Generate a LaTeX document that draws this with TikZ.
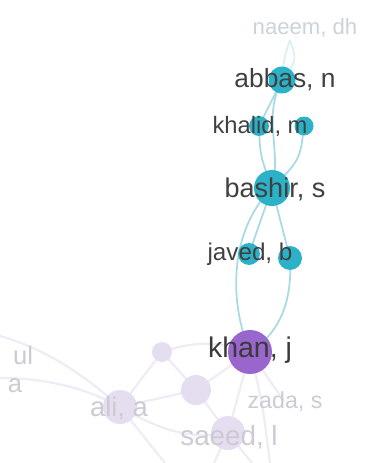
\documentclass[tikz,border=0pt]{standalone}
\usepackage{fontspec}
\setmainfont{Liberation Sans}
\usepackage{xcolor}
\usepackage{tikz}

\definecolor{authorteal}{RGB}{43,178,200}
\definecolor{edgeteal}{RGB}{168,218,228}
\definecolor{khanpurple}{RGB}{152,102,204}
\definecolor{palepurple}{RGB}{229,222,240}
\definecolor{edgepurple}{RGB}{240,236,246}
\definecolor{labeldark}{RGB}{64,64,64}
\definecolor{labelpale}{RGB}{205,202,212}
\definecolor{labelmist}{RGB}{202,212,216}

\begin{document}
\begin{tikzpicture}[x=0.02cm, y=-0.02cm,
	author/.style={circle, fill=authorteal, inner sep=0pt, minimum size=#1},
	faded/.style={circle, fill=palepurple, inner sep=0pt, minimum size=#1},
	lbl/.style={font=\fontsize{#1}{#1}\selectfont, text=labeldark, inner sep=0pt},
	palelbl/.style={font=\fontsize{#1}{#1}\selectfont, text=labelpale, inner sep=0pt},
	tealedge/.style={draw=edgeteal, line width=1pt},
	paleedge/.style={draw=edgepurple, line width=1.3pt}]
					\useasboundingbox (0,0) rectangle (365,463);
					
					\coordinate (Naeem) at (290, 40);
					\coordinate (Abbas) at (282, 80);
					\coordinate (KhalidA) at (259, 126);
					\coordinate (KhalidB) at (304, 126);
					\coordinate (Bashir) at (272, 188);
					\coordinate (JavedA) at (249, 254);
					\coordinate (JavedB) at (290, 258);
					\coordinate (Khan) at (250, 352);
					\coordinate (Minor) at (162, 352);
					\coordinate (Middle) at (196, 390);
					\coordinate (Ali) at (120, 407);
					\coordinate (Saeed) at (228, 433);
					\coordinate (Zada) at (284, 401);
					\coordinate (EdgeUl) at (0, 336);
					\coordinate (EdgeA) at (0, 378);
					\coordinate (BottomA) at (165, 463);
					\coordinate (BottomB) at (214, 463);
					\coordinate (BottomC) at (252, 463);
					\coordinate (BottomD) at (270, 463);
					
					\draw[paleedge] (EdgeUl) .. controls (50, 350) and (90, 380) .. (Ali);
					\draw[paleedge] (EdgeA) .. controls (50, 378) and (90, 390) .. (Ali);
					\draw[paleedge] (Ali) -- (Minor);
					\draw[paleedge] (Ali) -- (Middle);
					\draw[paleedge] (Minor) -- (Middle);
					\draw[paleedge] (Minor) .. controls (190, 342) and (220, 340) .. (Khan);
					\draw[paleedge] (Middle) -- (Khan);
					\draw[paleedge] (Middle) -- (Saeed);
					\draw[paleedge] (Ali) .. controls (160, 430) and (190, 440) .. (Saeed);
					\draw[paleedge] (Ali) -- (BottomA);
					\draw[paleedge] (Khan) -- (Saeed);
					\draw[paleedge] (Khan) -- (Zada);
					\draw[paleedge] (Khan) .. controls (262, 400) .. (BottomD);
					\draw[paleedge] (Saeed) -- (BottomB);
					\draw[paleedge] (Saeed) -- (BottomC);
					
					\draw[draw=edgeteal!40, line width=1pt] (Naeem) .. controls (284, 58) .. (Abbas);
					\draw[draw=edgeteal!40, line width=1pt] (Naeem) .. controls (297, 60) .. (Abbas);
					\draw[tealedge] (Abbas) -- (KhalidA);
					\draw[tealedge] (Abbas) .. controls (262, 118) and (282, 150) .. (Bashir);
					\draw[tealedge] (KhalidA) .. controls (260, 155) .. (Bashir);
					\draw[tealedge] (KhalidB) .. controls (300, 160) .. (Bashir);
					\draw[tealedge] (Bashir) -- (JavedA);
					\draw[tealedge] (Bashir) -- (JavedB);
					\draw[tealedge] (Bashir) .. controls (230, 230) and (228, 300) .. (Khan);
					\draw[tealedge] (JavedB) .. controls (292, 295) and (284, 330) .. (Khan);
					
					\node[faded=0.4cm] (minor) at (Minor) {};
					\node[faded=0.6cm] (middle) at (Middle) {};
					\node[faded=0.68cm] (ali) at (Ali) {};
					\node[faded=0.68cm] (saeed) at (Saeed) {};
					\node[author=0.54cm] (abbas) at (Abbas) {};
					\node[author=0.4cm] (khalidA) at (KhalidA) {};
					\node[author=0.38cm] (khalidB) at (KhalidB) {};
					\node[author=0.72cm] (bashir) at (Bashir) {};
					\node[author=0.44cm] (javedA) at (JavedA) {};
					\node[author=0.48cm] (javedB) at (JavedB) {};
					\node[circle, fill=khanpurple, inner sep=0pt, minimum size=0.88cm] (khan) at (Khan) {};
					
					\node[palelbl=12.6, text=labelmist] (naeemlbl) at (305, 28) {naeem, dh};
					\node[lbl=15] (abbaslbl) at (285, 80) {abbas, n};
					\node[lbl=13.5] (khalidlbl) at (260, 126) {khalid, m};
					\node[lbl=15.4] (bashirlbl) at (275, 189) {bashir, s};
					\node[lbl=13.8] (javedlbl) at (250, 254) {javed, b};
					\node[lbl=16.2, text=labeldark!90!black] (khanlbl) at (250, 350) {khan, j};
					\node[palelbl=13.2] (zadalbl) at (285, 402) {zada, s};
					\node[palelbl=15.8] (saeedlbl) at (229, 437) {saeed, l};
					\node[palelbl=15.6] (alilbl) at (119, 408) {ali, a};
					\node[palelbl=14.6] (ullbl) at (23, 355) {ul};
					\node[palelbl=14.6] (albl) at (15, 386) {a};
					\end{tikzpicture}
\end{document}
